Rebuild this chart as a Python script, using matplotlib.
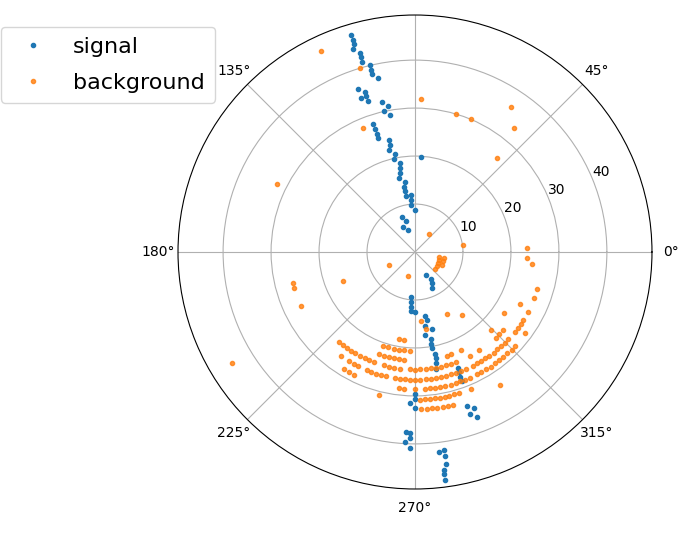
import numpy as np
import matplotlib
matplotlib.use('Agg')
import matplotlib.pyplot as plt

# signal hits: angle (deg), radius
sig_theta = [106.4, 106.3, 106.3, 106.9, 105.4, 105.4, 105.5, 103.4, 103.5, 103.5,
             101.9, 109.2, 107.3, 107.3, 109.3, 107.2, 102.3, 100.4, 102.3, 100.2,
             108.1, 107.9, 108.0, 107.8, 102.9, 103.0, 104.2, 101.4, 102.6, 86.2,
             99.4, 100.2, 100.5, 102.0, 97.9, 99.4, 99.1, 98.9, 93.7, 94.4,
             94.5, 89.6, 109.9, 105.7, 115.3, 106.9,
             295.9, 301.8, 299.0, 295.5, 265.3, 265.8, 266.1, 266.4, 270.3, 279.1,
             279.8, 277.9, 282.6, 276.9, 280.4, 279.9, 279.8, 281.2, 281.3, 280.5,
             280.4, 290.3, 290.0, 290.0, 290.1, 270.0, 270.0, 268.2, 270.0, 288.8,
             290.9, 288.7, 290.7, 267.2, 268.5, 268.5, 267.1, 268.6, 277.0, 278.4,
             278.5, 278.4, 277.7, 277.5, 277.6]
sig_r = [47.2, 46.1, 45.2, 44.2, 43.0, 42.2, 41.2, 40.1, 39.0, 38.2,
         37.1, 36.0, 35.0, 34.1, 34.0, 33.0, 32.1, 30.9, 30.1, 29.0,
         28.0, 27.0, 25.9, 25.0, 24.0, 22.9, 21.9, 20.9, 19.8, 19.9,
         18.8, 17.8, 16.8, 15.7, 14.7, 13.7, 12.8, 11.8, 11.9, 10.8,
         9.8, 8.7, 7.8, 6.7, 5.7, 4.8,
         5.4, 6.5, 7.3, 8.4, 9.5, 10.5, 11.4, 12.3, 12.6, 13.5,
         14.4, 15.6, 16.5, 17.5, 18.5, 19.5, 20.4, 21.6, 22.6, 23.6,
         24.7, 25.7, 26.7, 27.7, 28.7, 29.6, 30.7, 31.5, 32.6, 33.8,
         34.7, 35.7, 36.7, 37.6, 37.8, 38.7, 39.7, 40.8, 41.9, 41.8,
         42.9, 44.7, 45.9, 46.7, 47.9]

# isolated background hits
bkg_theta = [115.1, 106.6, 112.7, 87.6, 73.3, 67.0, 56.6, 51.2, 48.7, 153.8,
             51.1, 7.9, 349.1, 348.4, 341.4, 341.8, 333.5, 334.5, 327.2, 320.6,
             254.4, 206.6, 201.9, 194.3, 196.6, 205.3, 211.2, 297.8, 306.8, 275.2,
             278.1, 1.9, 356.8]
bkg_r = [46.3, 40.0, 28.0, 31.9, 30.0, 30.1, 36.2, 33.1, 26.0, 32.1,
         4.8, 10.2, 5.2, 6.2, 5.2, 6.2, 5.3, 6.3, 5.4, 5.5,
         5.2, 6.1, 16.2, 26.3, 26.4, 26.3, 44.7, 14.5, 16.5, 14.5,
         16.3, 23.3, 23.3]

# background hits lying on detector layers: layer radius -> hit angles
layer_r = [18.5, 20.6, 22.6, 24.5, 26.6, 28.6, 30.8, 32.8]
layer_theta = [
    [259.8, 263.1],
    [251.2, 254.3, 257.9, 260.8, 263.8, 267.3],
    [250.8, 253.4, 256.3, 259.0, 261.7, 264.4, 287.0, 289.5, 295.2, 314.3, 325.5],
    [229.6, 232.1, 234.5, 237.0, 239.4, 242.3, 244.9, 247.0, 249.6, 254.8,
     257.4, 259.9, 262.9, 267.7, 270.1, 272.6, 275.4, 277.8, 280.3, 282.8,
     285.3, 287.9, 290.4, 297.8, 303.2, 313.3, 315.7, 318.4, 333.6, 354.0],
    [234.5, 239.0, 241.4, 243.6, 248.0, 250.0, 252.3, 254.7, 257.0, 261.1,
     263.4, 265.6, 267.9, 270.1, 272.4, 274.9, 277.2, 279.5, 281.9, 284.2,
     286.6, 288.9, 291.3, 293.7, 296.8, 299.2, 301.2, 303.5, 305.7, 308.0,
     310.2, 312.5, 314.7, 316.9, 321.4, 323.6, 325.9, 327.9, 332.2, 339.1, 343.3],
    [238.9, 241.4, 243.6, 263.4, 265.5, 270.1, 274.2, 276.3, 278.4, 280.6,
     282.8, 285.0, 287.2, 289.3, 291.5, 293.8, 297.0, 298.9, 301.3, 303.4,
     305.8, 307.9, 310.0, 312.3, 314.7, 316.8, 323.6],
    [255.8, 271.9, 273.9, 275.8, 277.8, 279.8, 281.9, 283.4, 285.5, 287.5, 292.4],
    [272.3, 274.2, 276.3, 278.1, 280.4, 282.2, 284.1, 302.5],
]

for rad, angles in zip(layer_r, layer_theta):
    bkg_theta = bkg_theta + angles
    bkg_r = bkg_r + [rad] * len(angles)

fig = plt.figure(figsize=(6.92, 5.42), dpi=100)
ax = fig.add_axes([0.2572, 0.0978, 0.685, 0.8745], projection='polar')

ax.plot(np.radians(sig_theta), sig_r, '.', label='signal')
ax.plot(np.radians(bkg_theta), bkg_r, '.', alpha=0.8, label='background')
ax.set_ylim(0, 49.4)
ax.set_rticks([10, 20, 30, 40])

fig.legend(loc='upper left', bbox_to_anchor=(1 / 692, 1 - 27 / 542),
           borderaxespad=0, fontsize=16, labelspacing=0.7, borderpad=0.45)

fig.savefig('out.png')
